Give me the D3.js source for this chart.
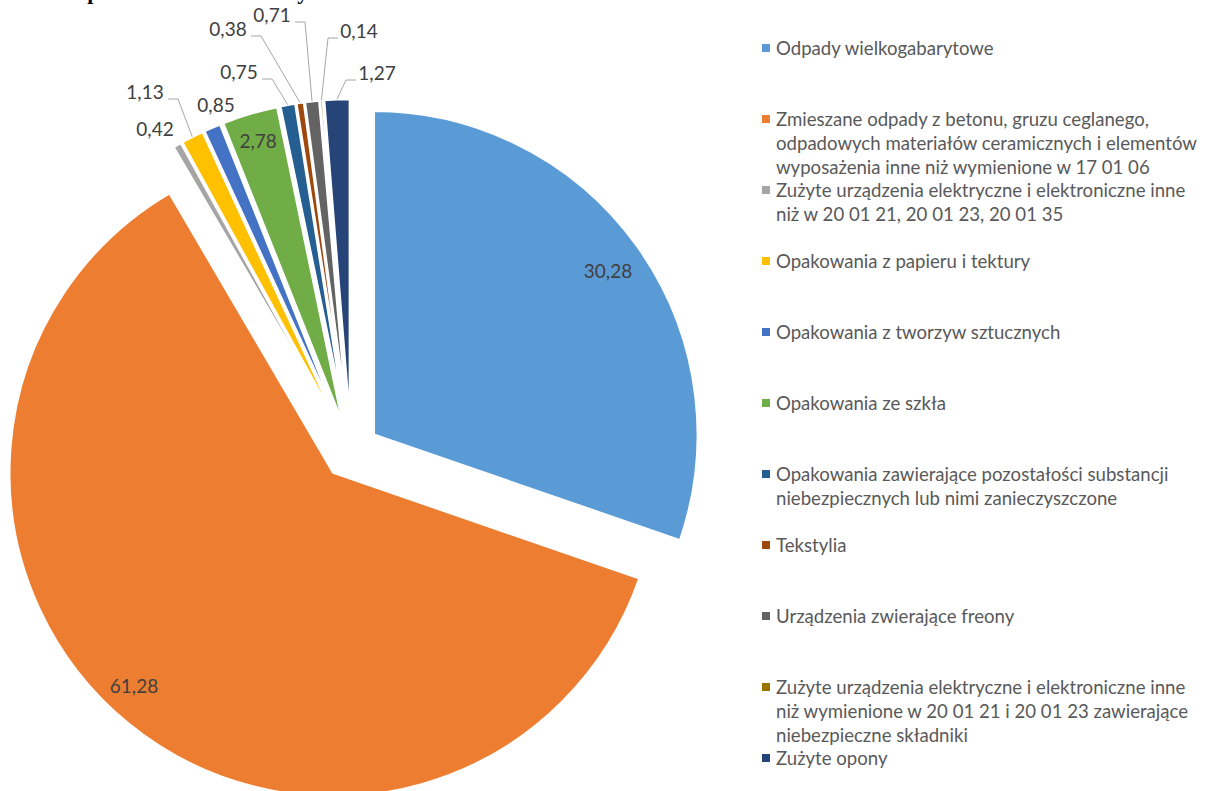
<!DOCTYPE html>
<html>
<head>
<meta charset="utf-8">
<script src="https://cdn.jsdelivr.net/npm/d3@7"></script>
<style>
body { margin: 0; background: #fff; }
svg { display: block; }
</style>
</head>
<body>
<script>
// data (percent shares)
var categories = [
    ["Odpady wielkogabarytowe"],
    ["Zmieszane odpady z betonu, gruzu ceglanego,", "odpadowych materiałów ceramicznych i elementów", "wyposażenia inne niż wymienione w 17 01 06"],
    ["Zużyte urządzenia elektryczne i elektroniczne inne", "niż w 20 01 21, 20 01 23, 20 01 35"],
    ["Opakowania z papieru i tektury"],
    ["Opakowania z tworzyw sztucznych"],
    ["Opakowania ze szkła"],
    ["Opakowania zawierające pozostałości substancji", "niebezpiecznych lub nimi zanieczyszczone"],
    ["Tekstylia"],
    ["Urządzenia zwierające freony"],
    ["Zużyte urządzenia elektryczne i elektroniczne inne", "niż wymienione w 20 01 21 i 20 01 23 zawierające", "niebezpieczne składniki"],
    ["Zużyte opony"]
];
var values = [30.28, 61.28, 0.42, 1.13, 0.85, 2.78, 0.75, 0.38, 0.71, 0.14, 1.27];
var colors = ["#5B9BD5", "#ED7D31", "#A5A5A5", "#FFC000", "#4472C4", "#70AD47",
              "#255E91", "#9E480E", "#636363", "#997300", "#264478"];

// where excel put the labels (null = along the slice bisector)
var labelAt = [[608, 271], [134, 686], [155, 129], [145, 92], [216, 105], null,
               [239, 72], [228, 29], [272, 15], [359, 31], [377, 73]];
var hasLeader = [false, false, false, true, false, false, true, true, true, true, true];

var width = 1211, height = 791;
var cx = 351, cy = 451, radius = 324, explode = 28;
var font = "Lato, 'Open Sans', sans-serif";

var pl = d3.formatLocale({decimal: ",", thousands: " ", grouping: [3], currency: ["", " zł"]});
var fmt = pl.format(".2f");

var svg = d3.select("body").append("svg")
    .attr("width", width)
    .attr("height", height);

// title is cut off by the crop, only the descenders show
var t1 = svg.append("text")
    .attr("y", -1)
    .style("font-family", "'Liberation Serif', serif")
    .style("font-weight", "bold")
    .style("font-size", "22px")
    .attr("fill", "#000")
    .text("Struktura odpadów");
var px = t1.node().getStartPositionOfChar(11).x;
t1.attr("x", 75 - px);
var t2 = svg.append("text")
    .attr("y", -1)
    .style("font-family", "'Liberation Serif', serif")
    .style("font-weight", "bold")
    .style("font-size", "22px")
    .attr("fill", "#000")
    .text("komunalnych");
var yx = t2.node().getStartPositionOfChar(10).x;
t2.attr("x", 318 - yx);

var pie = d3.pie().sort(null).value(function(d) { return d; });
var arcs = pie(values);

var arc = d3.arc().innerRadius(0).outerRadius(radius);

function dir(a) { return [Math.sin(a), -Math.cos(a)]; }

var g = svg.append("g").attr("transform", "translate(" + cx + "," + cy + ")");

g.selectAll("path")
    .data(arcs)
    .enter()
    .append("path")
    .attr("d", arc)
    .attr("fill", function(d, i) { return colors[i]; })
    .attr("stroke", "#fff")
    .attr("stroke-width", 2.5)
    .attr("stroke-linejoin", "round")
    .attr("transform", function(d) {
        var m = dir((d.startAngle + d.endAngle) / 2);
        return "translate(" + (m[0] * explode) + "," + (m[1] * explode) + ")";
    });

// leader lines
arcs.forEach(function(d, i) {
    if (!hasLeader[i]) return;
    var m = dir((d.startAngle + d.endAngle) / 2);
    var ex = cx + m[0] * (explode + radius);
    var ey = cy + m[1] * (explode + radius);
    var lx = labelAt[i][0], ly = labelAt[i][1] + 7;
    var sx, kx;
    if (ex > lx) { sx = lx + 23; kx = sx + 10; }
    else { sx = lx - 21; kx = sx - 10; }
    svg.append("path")
        .attr("d", d3.line()([[sx, ly], [kx, ly], [ex, ey]]))
        .attr("fill", "none")
        .attr("stroke", "#a6a6a6")
        .attr("stroke-width", 1);
});

// data labels
svg.append("g").selectAll("text")
    .data(arcs)
    .enter()
    .append("text")
    .attr("x", function(d, i) {
        if (labelAt[i]) return labelAt[i][0];
        var m = dir((d.startAngle + d.endAngle) / 2);
        return cx + m[0] * (explode + radius * 0.91);
    })
    .attr("y", function(d, i) {
        if (labelAt[i]) return labelAt[i][1];
        var m = dir((d.startAngle + d.endAngle) / 2);
        return cy + m[1] * (explode + radius * 0.91);
    })
    .attr("dy", "0.35em")
    .attr("text-anchor", "middle")
    .style("font-family", font)
    .style("font-size", "19px")
    .attr("fill", "#404040")
    .text(function(d) { return fmt(d.data); });

// legend
var legend = svg.append("g").attr("transform", "translate(762,48)");
var item = legend.selectAll("g")
    .data(categories)
    .enter()
    .append("g")
    .attr("transform", function(d, i) { return "translate(0," + (i * 71) + ")"; });

item.append("rect")
    .attr("x", 0)
    .attr("y", -4)
    .attr("width", 8)
    .attr("height", 8)
    .attr("fill", function(d, i) { return colors[i]; });

item.append("text")
    .style("font-family", font)
    .style("font-size", "18.6px")
    .attr("fill", "#595959")
    .selectAll("tspan")
    .data(function(d) { return d; })
    .enter()
    .append("tspan")
    .attr("x", 14)
    .attr("y", function(d, j) { return j * 24; })
    .attr("dy", "0.35em")
    .text(function(d) { return d; });
</script>
</body>
</html>
